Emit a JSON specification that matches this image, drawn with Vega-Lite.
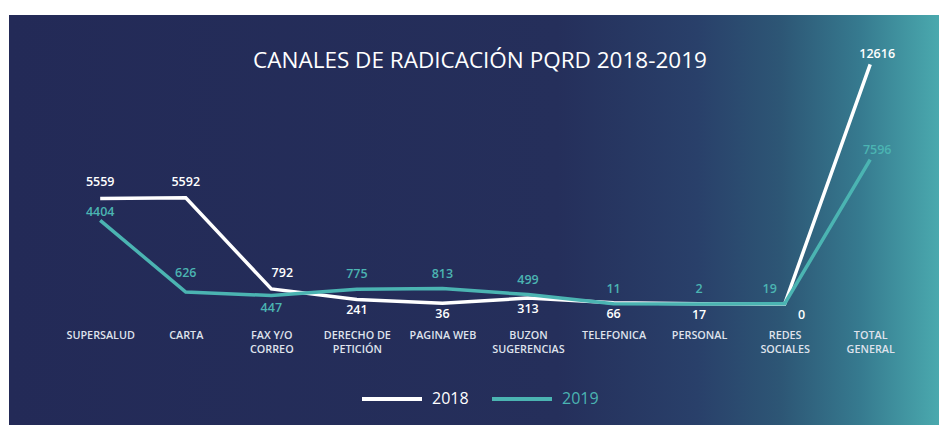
{
  "$schema": "https://vega.github.io/schema/vega-lite/v6.json",
  "width": 930,
  "height": 410,
  "autosize": {"type": "none"},
  "padding": {"left": 9, "top": 15, "right": 0, "bottom": 0},
  "background": "white",
  "config": {
    "view": {
      "stroke": null,
      "fill": {
        "gradient": "linear",
        "x1": 0, "y1": 0, "x2": 1, "y2": 0,
        "stops": [
          {"offset": 0, "color": "#232a57"},
          {"offset": 0.59, "color": "#252f5b"},
          {"offset": 0.74, "color": "#29406a"},
          {"offset": 0.83, "color": "#2d5675"},
          {"offset": 0.915, "color": "#367a8f"},
          {"offset": 1, "color": "#4aa9ae"}
        ]
      }
    },
    "font": "Open Sans"
  },
  "title": {
    "text": "CANALES DE RADICACIÓN PQRD 2018-2019",
    "color": "white",
    "fontSize": 22.5,
    "fontWeight": "normal",
    "font": "Open Sans",
    "anchor": "middle",
    "dx": 6,
    "offset": -57
  },
  "data": {
    "values": [
      {"canal": "SUPERSALUD", "anio": "2018", "valor": 5559},
      {"canal": "CARTA", "anio": "2018", "valor": 5592},
      {"canal": "FAX Y/O CORREO", "anio": "2018", "valor": 792},
      {"canal": "DERECHO DE PETICIÓN", "anio": "2018", "valor": 241},
      {"canal": "PAGINA WEB", "anio": "2018", "valor": 36},
      {"canal": "BUZON SUGERENCIAS", "anio": "2018", "valor": 313},
      {"canal": "TELEFONICA", "anio": "2018", "valor": 66},
      {"canal": "PERSONAL", "anio": "2018", "valor": 17},
      {"canal": "REDES SOCIALES", "anio": "2018", "valor": 0},
      {"canal": "TOTAL GENERAL", "anio": "2018", "valor": 12616},
      {"canal": "SUPERSALUD", "anio": "2019", "valor": 4404},
      {"canal": "CARTA", "anio": "2019", "valor": 626},
      {"canal": "FAX Y/O CORREO", "anio": "2019", "valor": 447},
      {"canal": "DERECHO DE PETICIÓN", "anio": "2019", "valor": 775},
      {"canal": "PAGINA WEB", "anio": "2019", "valor": 813},
      {"canal": "BUZON SUGERENCIAS", "anio": "2019", "valor": 499},
      {"canal": "TELEFONICA", "anio": "2019", "valor": 11},
      {"canal": "PERSONAL", "anio": "2019", "valor": 2},
      {"canal": "REDES SOCIALES", "anio": "2019", "valor": 19},
      {"canal": "TOTAL GENERAL", "anio": "2019", "valor": 7596}
    ]
  },
  "encoding": {
    "x": {
      "field": "canal",
      "type": "nominal",
      "sort": null,
      "scale": {"type": "point", "padding": 0.935, "align": 0.57},
      "axis": {
        "title": null,
        "orient": "bottom",
        "offset": -96,
        "domain": false,
        "ticks": false,
        "grid": false,
        "labelAngle": 0,
        "labelAlign": "center",
        "labelBaseline": "top",
        "labelPadding": 0,
        "labelFontSize": 10.8,
        "labelFontWeight": 600,
        "labelColor": "#dfe2ec",
        "labelLineHeight": 14,
        "labelLimit": 0,
        "labelExpr": "datum.label == 'FAX Y/O CORREO' ? ['FAX Y/O','CORREO'] : datum.label == 'DERECHO DE PETICIÓN' ? ['DERECHO DE','PETICIÓN'] : datum.label == 'BUZON SUGERENCIAS' ? ['BUZON','SUGERENCIAS'] : datum.label == 'REDES SOCIALES' ? ['REDES','SOCIALES'] : datum.label == 'TOTAL GENERAL' ? ['TOTAL','GENERAL'] : datum.label"
      }
    },
    "y": {
      "field": "valor",
      "type": "quantitative",
      "scale": {"domain": [-6368, 15211], "nice": false, "zero": false},
      "axis": null
    }
  },
  "layer": [
    {
      "mark": {"type": "line", "strokeWidth": 3.5},
      "encoding": {
        "color": {
          "field": "anio",
          "type": "nominal",
          "scale": {"domain": ["2018", "2019"], "range": ["#ffffff", "#4bb4b2"]},
          "legend": {
            "title": null,
            "orient": "none",
            "legendX": 351,
            "legendY": 352,
            "direction": "horizontal",
            "symbolType": "stroke",
            "symbolSize": 3600,
            "symbolStrokeWidth": 4,
            "labelFontSize": 16,
            "labelOffset": 8,
            "columnPadding": 15,
            "labelFont": "Open Sans",
            "encode": {
              "labels": {
                "update": {
                  "fill": {"signal": "datum.label == '2019' ? '#4bb4b2' : '#ffffff'"}
                }
              }
            }
          }
        }
      }
    },
    {
      "transform": [{"filter": "datum.anio == '2018' && indexof(['SUPERSALUD','CARTA','FAX Y/O CORREO','TOTAL GENERAL'], datum.canal) >= 0"}],
      "mark": {"type": "text", "color": "#ffffff", "fontSize": 12.5, "fontWeight": 600, "baseline": "middle",
        "dy": {"expr": "datum.canal == 'TOTAL GENERAL' ? -10 : -16"},
        "dx": {"expr": "datum.canal == 'FAX Y/O CORREO' ? 11 : datum.canal == 'TOTAL GENERAL' ? 7 : 0"}},
      "encoding": {"text": {"field": "valor", "type": "quantitative"}}
    },
    {
      "transform": [{"filter": "datum.anio == '2018' && indexof(['SUPERSALUD','CARTA','FAX Y/O CORREO','TOTAL GENERAL'], datum.canal) < 0"}],
      "mark": {"type": "text", "color": "#ffffff", "fontSize": 12.5, "fontWeight": 600, "baseline": "middle", "dy": 11,
        "dx": {"expr": "datum.canal == 'REDES SOCIALES' ? 17 : 0"}},
      "encoding": {"text": {"field": "valor", "type": "quantitative"}}
    },
    {
      "transform": [{"filter": "datum.anio == '2019' && datum.canal != 'FAX Y/O CORREO'"}],
      "mark": {"type": "text", "color": "#4bb4b2", "fontSize": 12.5, "fontWeight": 600, "baseline": "middle",
        "dy": {"expr": "datum.canal == 'TOTAL GENERAL' ? -10 : datum.canal == 'SUPERSALUD' ? -8 : datum.canal == 'CARTA' ? -19 : -15"},
        "dx": {"expr": "datum.canal == 'REDES SOCIALES' ? -15 : datum.canal == 'TOTAL GENERAL' ? 7 : 0"}},
      "encoding": {"text": {"field": "valor", "type": "quantitative"}}
    },
    {
      "transform": [{"filter": "datum.anio == '2019' && datum.canal == 'FAX Y/O CORREO'"}],
      "mark": {"type": "text", "color": "#4bb4b2", "fontSize": 12.5, "fontWeight": 600, "baseline": "middle", "dy": 12},
      "encoding": {"text": {"field": "valor", "type": "quantitative"}}
    }
  ]
}
